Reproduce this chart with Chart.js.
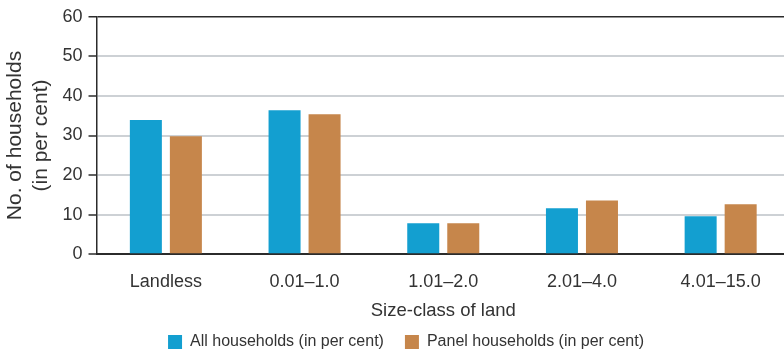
<!DOCTYPE html>
<html>
<head>
<meta charset="utf-8">
<script src="https://cdn.jsdelivr.net/npm/chart.js@4/dist/chart.umd.min.js"></script>
<style>
  html, body { margin: 0; padding: 0; background: #fff; overflow: hidden; }
  #wrap { width: 790px; height: 351px; }
</style>
</head>
<body>
<div id="wrap"><canvas id="chart" width="790" height="351"></canvas></div>
<script>
// Share of households by size-class of land holding
const categories = ['Landless', '0.01–1.0', '1.01–2.0', '2.01–4.0', '4.01–15.0'];
const allHouseholds = [33.9, 36.4, 7.8, 11.6, 9.6];
const panelHouseholds = [29.8, 35.4, 7.8, 13.6, 12.6];
const yTicks = [0, 10, 20, 30, 40, 50, 60];

const FONT = "'Liberation Sans', Arial, sans-serif";
const TEXT = '#333333';
const AXIS = '#2b2b2b';
const GRID = '#cdd1d5';

Chart.defaults.font.family = FONT;
Chart.defaults.color = TEXT;

// Nudge the legend row a little to the right of the canvas centre
const legendShift = {
  id: 'legendShift',
  afterLayout(chart) {
    const lg = chart.legend;
    if (lg) { lg.left += 10; lg.right += 10; }
  }
};

new Chart(document.getElementById('chart'), {
  type: 'bar',
  data: {
    labels: categories,
    datasets: [
      {
        label: 'All households (in per cent)',
        data: allHouseholds,
        backgroundColor: '#139fd0',
        categoryPercentage: 0.577,
        barPercentage: 0.8
      },
      {
        label: 'Panel households (in per cent)',
        data: panelHouseholds,
        backgroundColor: '#c6864b',
        categoryPercentage: 0.577,
        barPercentage: 0.8
      }
    ]
  },
  plugins: [legendShift],
  options: {
    responsive: false,
    animation: false,
    devicePixelRatio: 1,
    layout: { padding: { top: 9, right: 0, bottom: -9, left: 2 } },
    plugins: {
      tooltip: { enabled: false },
      legend: {
        position: 'bottom',
        labels: {
          boxWidth: 14,
          boxHeight: 14,
          padding: 21,
          color: TEXT,
          font: { size: 16, family: FONT }
        }
      }
    },
    scales: {
      x: {
        grid: { display: false, drawTicks: false },
        border: { color: AXIS, width: 2 },
        ticks: { padding: 17, color: TEXT, font: { size: 18, family: FONT } },
        title: {
          display: true,
          text: 'Size-class of land',
          color: TEXT,
          font: { size: 18.5, family: FONT },
          padding: { top: -10, bottom: -9 }
        }
      },
      y: {
        min: 0,
        max: 60,
        afterBuildTicks: (axis) => { axis.ticks = yTicks.map(v => ({ value: v })); },
        grid: {
          color: (ctx) => (ctx.tick && ctx.tick.value === 60 ? AXIS : GRID),
          lineWidth: (ctx) => (ctx.tick && ctx.tick.value === 60 ? 1.5 : 2),
          tickColor: AXIS,
          tickLength: 8,
          tickWidth: 1.5
        },
        border: { color: AXIS, width: 1.5 },
        ticks: { padding: 6, color: TEXT, font: { size: 18, family: FONT } },
        title: {
          display: true,
          text: ['No. of households', '(in per cent)'],
          color: TEXT,
          font: { size: 21, family: FONT, lineHeight: 1.25 },
          padding: { top: 0, bottom: 2 }
        }
      }
    }
  }
});
</script>
</body>
</html>
